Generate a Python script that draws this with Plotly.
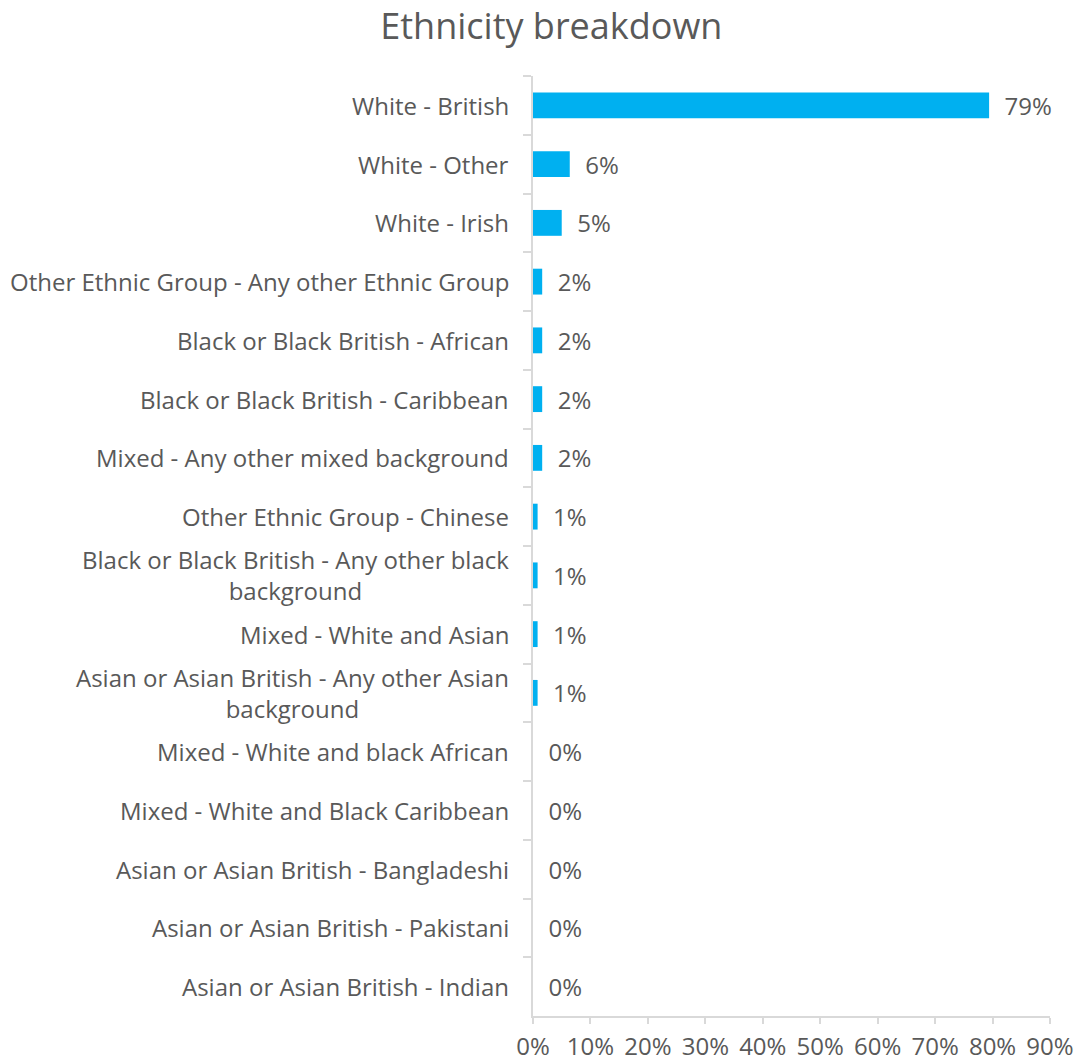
import plotly.graph_objects as go

# Ethnic groups, top to bottom, and their share of the total
categories = [
    "White - British",
    "White - Other",
    "White - Irish",
    "Other Ethnic Group - Any other Ethnic Group",
    "Black or Black British - African",
    "Black or Black British - Caribbean",
    "Mixed - Any other mixed background",
    "Other Ethnic Group - Chinese",
    "Black or Black British - Any other black<br>background",
    "Mixed - White and Asian",
    "Asian or Asian British - Any other Asian<br>background",
    "Mixed - White and black African",
    "Mixed - White and Black Caribbean",
    "Asian or Asian British - Bangladeshi",
    "Asian or Asian British - Pakistani",
    "Asian or Asian British - Indian",
]
shares = [0.794, 0.064, 0.050, 0.016, 0.016, 0.016, 0.016, 0.008,
          0.008, 0.008, 0.008, 0.0, 0.0, 0.0, 0.0, 0.0]
x_ticks = [0.0, 0.1, 0.2, 0.3, 0.4, 0.5, 0.6, 0.7, 0.8, 0.9]

TEXT = "#595959"
AXIS = "#d9d9d9"
FONT = "Open Sans"

fig = go.Figure(
    go.Bar(
        x=shares,
        y=categories,
        orientation="h",
        marker=dict(color="#00B0F0", line=dict(width=0)),
        texttemplate="\u00a0\u00a0%{x:.0%}",
        textposition="outside",
        constraintext="none",
        cliponaxis=False,
        textfont=dict(family=FONT, size=24, color=TEXT),
    )
)

# Category labels as annotations so wrapped lines are centred on each other
for cat in categories:
    fig.add_annotation(
        x=0, xref="paper", y=cat, yref="y",
        text=cat, showarrow=False,
        xanchor="right", yanchor="middle", align="center", xshift=-22,
        font=dict(family=FONT, size=24, color=TEXT),
    )

fig.update_layout(
    width=1081, height=1061,
    margin=dict(l=533, r=31, t=76, b=45),
    paper_bgcolor="white", plot_bgcolor="white",
    bargap=0.56,
    showlegend=False,
    title=dict(
        text="Ethnicity breakdown",
        x=0.51, xanchor="center", y=0.975, yanchor="middle",
        font=dict(family=FONT, size=36, color=TEXT),
    ),
    font=dict(family=FONT, size=24, color=TEXT),
)
fig.update_xaxes(
    range=[0, 0.9], tickvals=x_ticks, tickformat=".0%",
    showgrid=False, zeroline=False,
    showline=True, linecolor=AXIS, linewidth=2,
    ticks="outside", ticklen=6, tickcolor=AXIS, tickwidth=2,
    ticklabelstandoff=2,
    tickfont=dict(family=FONT, size=24, color=TEXT),
    automargin=False,
)
fig.update_yaxes(
    categoryorder="array", categoryarray=categories, autorange="reversed",
    showticklabels=False, showgrid=False, zeroline=False,
    showline=True, linecolor=AXIS, linewidth=2,
    ticks="outside", tickson="boundaries", ticklen=8, tickcolor=AXIS, tickwidth=2,
    automargin=False,
)

fig.write_html("out.html")
